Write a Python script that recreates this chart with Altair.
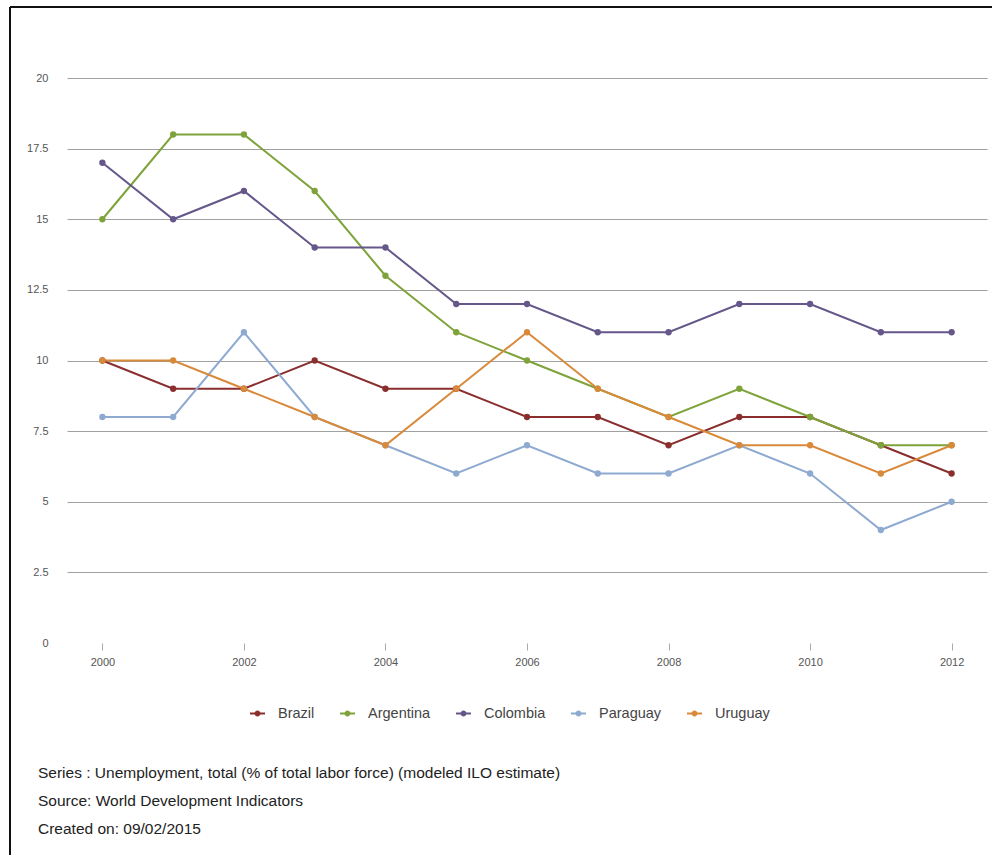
import altair as alt
import pandas as pd

years = list(range(2000, 2013))
countries = ["Brazil", "Argentina", "Colombia", "Paraguay", "Uruguay"]
colors = ["#8a2e2e", "#7ea33a", "#66578a", "#8eaad0", "#d9893a"]

brazil = [10, 9, 9, 10, 9, 9, 8, 8, 7, 8, 8, 7, 6]
argentina = [15, 18, 18, 16, 13, 11, 10, 9, 8, 9, 8, 7, 7]
colombia = [17, 15, 16, 14, 14, 12, 12, 11, 11, 12, 12, 11, 11]
paraguay = [8, 8, 11, 8, 7, 6, 7, 6, 6, 7, 6, 4, 5]
uruguay = [10, 10, 9, 8, 7, 9, 11, 9, 8, 7, 7, 6, 7]

y_ticks = [0, 2.5, 5, 7.5, 10, 12.5, 15, 17.5, 20]
x_ticks = [2000, 2002, 2004, 2006, 2008, 2010, 2012]

footer = [
    "Series : Unemployment, total (% of total labor force) (modeled ILO estimate)",
    "Source: World Development Indicators",
    "Created on: 09/02/2015",
]

series = [brazil, argentina, colombia, paraguay, uruguay]
rows = []
for c, vals in zip(countries, series):
    for yr, v in zip(years, vals):
        rows.append({"Country": c, "Year": yr, "Value": v})
df = pd.DataFrame(rows)

FONT = "Liberation Sans"

x = alt.X("Year:Q", scale=alt.Scale(domain=[1999.5, 2012.5], nice=False, zero=False),
          axis=alt.Axis(values=x_ticks, format="d", title=None, grid=False, domain=False,
                        ticks=True, tickSize=7, tickColor="#aaaaaa", labelPadding=6,
                        labelFontSize=11, labelColor="#555555", labelFont=FONT))
y = alt.Y("Value:Q", scale=alt.Scale(domain=[0, 20], nice=False),
          axis=alt.Axis(values=y_ticks, format=".1~f", title=None, domain=False, ticks=False,
                        labelPadding=19, labelFontSize=11, labelColor="#555555", labelFont=FONT,
                        grid=True, gridColor="#a0a0a0", gridWidth=1,
                        gridOpacity={"condition": {"test": "datum.value === 0", "value": 0}, "value": 1}))

scale = alt.Scale(domain=countries, range=colors)

legend_path = ("M-1,-0.12L1,-0.12L1,0.12L-1,0.12Z "
               "M-0.4,0A0.4,0.4,0,1,1,0.4,0A0.4,0.4,0,1,1,-0.4,0Z")

lines = alt.Chart(df).mark_line(strokeWidth=2).encode(
    x=x, y=y,
    color=alt.Color("Country:N", scale=scale, legend=None),
    order=alt.Order("Year:Q"),
)

points = alt.Chart(df).mark_point(filled=True, size=40, opacity=1).encode(
    x=x, y=y,
    color=alt.Color("Country:N", scale=scale,
                    legend=alt.Legend(title=None, orient="none", direction="horizontal",
                                      columns=5, legendX=183, legendY=628,
                                      symbolType=legend_path, symbolSize=225,
                                      symbolStrokeWidth=0, labelFontSize=14.5,
                                      labelFont=FONT, labelColor="#444444",
                                      labelOffset=13, columnPadding=25)),
)

def footer_text(i, ypix):
    return alt.Chart(pd.DataFrame({"t": [footer[i]]})).mark_text(
        align="left", baseline="middle", fontSize=15.5, font=FONT, color="#222222"
    ).encode(text="t:N", x=alt.value(-29), y=alt.value(ypix))

f1 = footer_text(0, 695)
f2 = footer_text(1, 723)
f3 = footer_text(2, 751)

frame_top = alt.Chart(pd.DataFrame({"a": [0]})).mark_rule(color="#111111", strokeWidth=2).encode(
    x=alt.value(-57), x2=alt.value(925), y=alt.value(-71))
frame_left = alt.Chart(pd.DataFrame({"a": [0]})).mark_rule(color="#111111", strokeWidth=2).encode(
    x=alt.value(-57), y=alt.value(-71), y2=alt.value(777))

chart = alt.layer(lines, points, f1, f2, f3, frame_top, frame_left).resolve_legend(
    color="independent"
).properties(
    width=920, height=565,
    autosize=alt.AutoSizeParams(type="none"),
    padding={"left": 67, "top": 78, "right": 5, "bottom": 212},
    background="white",
).configure_view(stroke=None)

chart.save("out.html", embed_options={"renderer": "svg", "actions": False})
